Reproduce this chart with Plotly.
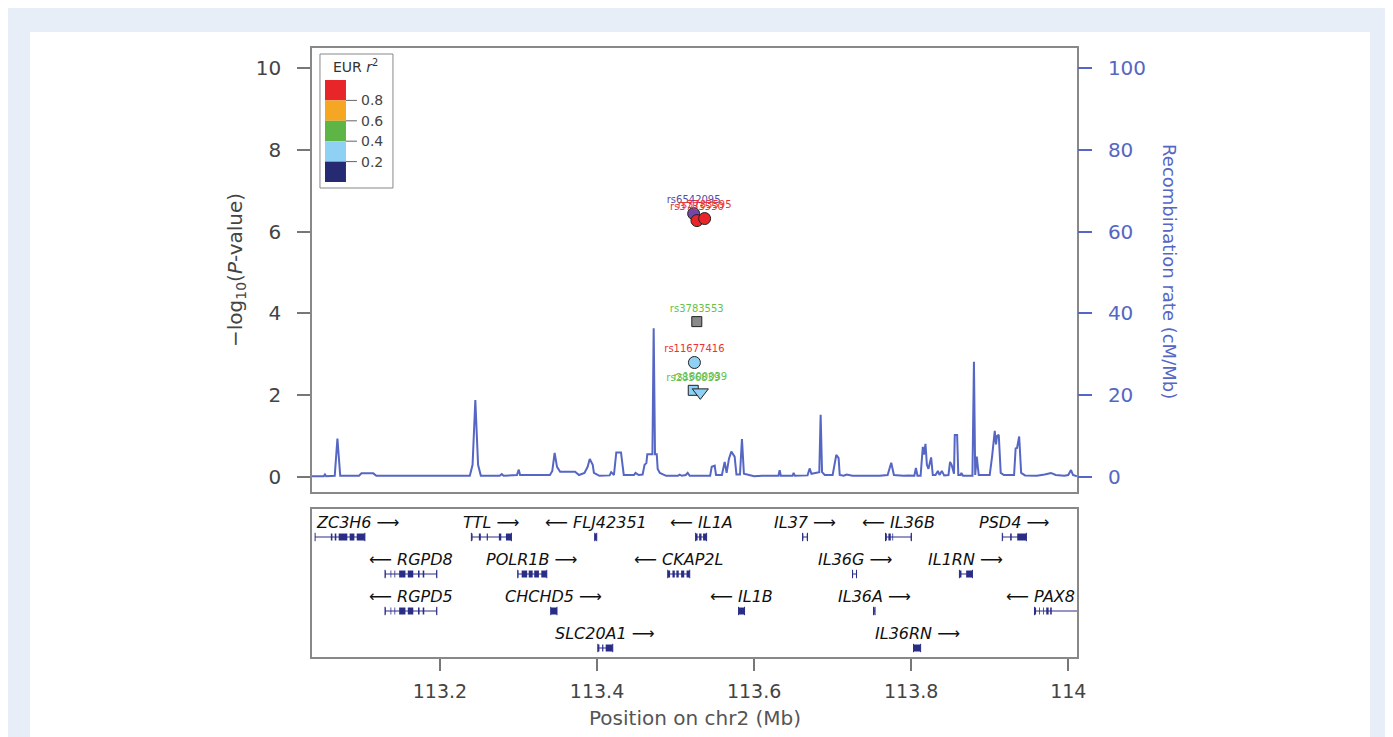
import plotly.graph_objects as go

OFF = 8        # page body margin of the viewer
XSCALE = 0.9936  # measured horizontal shrink of the captured page
W, H = 1393 - OFF, 737 - OFF
FONT = "DejaVu Sans"
NAVY_GENE = "#2a2d86"
REC_BLUE = "#5566c4"

# x range of both panels (Mb)
X_MIN, X_MAX = 113.037, 114.011

# --- SNPs (top panel) ---
snp_ids = ["rs6542095", "rs3783550", "rs3783595", "rs3783553", "rs11677416", "rs2856839", "rs1800039"]
snp_pos = [113.5230, 113.5272, 113.5370, 113.5270, 113.5240, 113.5225, 113.5315]
snp_logp = [6.44, 6.27, 6.32, 3.80, 2.80, 2.12, 2.07]
snp_shape = ["circle", "circle", "circle", "square", "circle", "square", "triangle-down"]
snp_fill = ["#7446a8", "#e8262a", "#e8262a", "#8a8a8a", "#8fd0f5", "#8fd0f5", "#8fd0f5"]
snp_label_color = ["#5a4aa8", "#f03030", "#f03030", "#66c04a", "#f03030", "#66c04a", "#66c04a"]
snp_size = [12, 12, 12, 10, 12, 10, 14]

# --- recombination rate (cM/Mb) ---
rec_pos = [113.037, 113.052, 113.0535, 113.055, 113.066, 113.0694, 113.073, 113.097, 113.100, 113.115,
           113.119, 113.238, 113.2415, 113.245, 113.2485, 113.252, 113.276, 113.2787, 113.281, 113.289,
           113.298, 113.3003, 113.302, 113.340, 113.343, 113.346, 113.349, 113.353, 113.372, 113.377,
           113.384, 113.388, 113.3907, 113.3945, 113.396, 113.403, 113.416, 113.418, 113.4215, 113.4245,
           113.4305, 113.434, 113.447, 113.449, 113.453, 113.458, 113.4605, 113.4628, 113.464, 113.4705,
           113.4721, 113.4738, 113.476, 113.4772, 113.480, 113.488, 113.503, 113.5052, 113.508, 113.513,
           113.5154, 113.518, 113.535, 113.544, 113.546, 113.5498, 113.5515, 113.559, 113.5625, 113.565,
           113.568, 113.571, 113.5752, 113.5775, 113.582, 113.5845, 113.587, 113.593, 113.600, 113.610,
           113.631, 113.6325, 113.634, 113.649, 113.6503, 113.652, 113.668, 113.6707, 113.673, 113.683,
           113.6847, 113.6865, 113.690, 113.700, 113.7025, 113.7046, 113.7076, 113.709, 113.714, 113.718,
           113.725, 113.745, 113.760, 113.770, 113.7746, 113.778, 113.790, 113.797, 113.800, 113.804,
           113.806, 113.808, 113.812, 113.8148, 113.8162, 113.8182, 113.820, 113.822, 113.8254, 113.8275,
           113.831, 113.834, 113.836, 113.839, 113.8398, 113.842, 113.8475, 113.8495, 113.8515, 113.8545,
           113.8555, 113.8585, 113.8600, 113.863, 113.8639, 113.866, 113.878, 113.8799, 113.8815, 113.8835,
           113.886, 113.900, 113.903, 113.9064, 113.908, 113.9093, 113.9115, 113.914, 113.918, 113.931,
           113.933, 113.9348, 113.9375, 113.940, 113.945, 113.960, 113.970, 113.978, 113.984, 113.995,
           114.000, 114.0035, 114.006, 114.011]
rec_rate = [0.2, 0.2, 0.6, 0.2, 0.3, 9.4, 0.3, 0.3, 0.9, 0.9,
            0.3, 0.3, 3.0, 18.8, 3.0, 0.3, 0.3, 0.7, 0.3, 0.4,
            0.5, 1.8, 0.5, 0.5, 1.5, 5.9, 2.5, 1.3, 1.3, 0.5,
            1.0, 2.5, 4.4, 3.0, 1.0, 0.3, 0.4, 1.2, 0.5, 6.0,
            6.0, 0.5, 0.5, 1.0, 0.5, 0.6, 3.0, 3.4, 5.6, 5.6,
            36.4, 5.6, 5.6, 2.0, 1.0, 0.3, 0.3, 0.6, 0.3, 0.5,
            1.0, 0.3, 0.2, 0.3, 2.5, 2.8, 0.5, 0.5, 3.7, 1.0,
            4.5, 6.2, 5.0, 0.6, 0.6, 9.3, 0.8, 0.5, 0.2, 0.3,
            0.3, 1.7, 0.3, 0.3, 1.0, 0.3, 0.4, 2.1, 0.8, 1.2,
            15.2, 1.2, 0.5, 0.5, 3.5, 5.4, 4.6, 0.5, 0.3, 0.6,
            0.3, 0.2, 0.3, 0.5, 3.5, 0.5, 0.3, 0.4, 0.3, 0.3,
            2.2, 0.3, 0.3, 7.4, 5.5, 8.1, 3.0, 2.0, 4.8, 0.5,
            0.5, 1.5, 0.5, 1.5, 1.2, 0.4, 0.5, 3.7, 3.0, 0.8,
            10.3, 10.3, 0.5, 0.5, 1.0, 0.3, 0.3, 28.2, 0.5, 5.0,
            0.5, 0.5, 5.0, 11.3, 8.0, 10.0, 10.3, 1.0, 0.5, 0.5,
            7.0, 7.1, 9.9, 1.0, 0.4, 0.3, 0.6, 1.0, 0.5, 0.3,
            0.5, 1.7, 0.5, 0.2]

# --- genes (bottom panel) ---
gene_names = ["ZC3H6", "TTL", "FLJ42351", "IL1A", "IL37", "IL36B", "PSD4",
              "RGPD8", "POLR1B", "CKAP2L", "IL36G", "IL1RN",
              "RGPD5", "CHCHD5", "IL1B", "IL36A", "PAX8",
              "SLC20A1", "IL36RN"]
gene_row = [1, 1, 1, 1, 1, 1, 1, 2, 2, 2, 2, 2, 3, 3, 3, 3, 3, 4, 4]
gene_strand = ["+", "+", "-", "-", "+", "-", "+", "-", "+", "-", "+", "+",
               "-", "+", "-", "+", "-", "+", "+"]
gene_start = [113.041, 113.240, 113.397, 113.5255, 113.6617, 113.7673, 113.916,
              113.130, 113.299, 113.490, 113.7253, 113.8614,
              113.130, 113.341, 113.5802, 113.752, 113.957,
              113.401, 113.803]
gene_end = [113.1044, 113.291, 113.3996, 113.5395, 113.668, 113.8003, 113.9467,
            113.196, 113.336, 113.518, 113.7304, 113.878,
            113.196, 113.349, 113.5878, 113.754, 114.030,
            113.420, 113.812]
gene_exons = [
    [(113.061, 113.063), (113.066, 113.068), (113.071, 113.082), (113.085, 113.091), (113.094, 113.1044)],
    [(113.240, 113.2415), (113.2495, 113.252), (113.2595, 113.261), (113.275, 113.278), (113.284, 113.291)],
    [(113.397, 113.3996)],
    [(113.5255, 113.528), (113.530, 113.533), (113.535, 113.5395)],
    [(113.6617, 113.6627), (113.667, 113.668)],
    [(113.7673, 113.769), (113.771, 113.774), (113.776, 113.777), (113.7993, 113.8003)],
    [(113.916, 113.917), (113.926, 113.928), (113.935, 113.9467)],
    [(113.130, 113.131), (113.137, 113.138), (113.142, 113.143), (113.148, 113.156),
     (113.159, 113.166), (113.172, 113.174), (113.178, 113.180), (113.195, 113.196)],
    [(113.299, 113.300), (113.304, 113.311), (113.313, 113.318), (113.320, 113.326), (113.329, 113.336)],
    [(113.490, 113.493), (113.496, 113.499), (113.501, 113.504), (113.507, 113.511), (113.514, 113.518)],
    [(113.7253, 113.726), (113.7297, 113.7304)],
    [(113.8614, 113.864), (113.870, 113.878)],
    [(113.130, 113.131), (113.137, 113.138), (113.142, 113.143), (113.148, 113.156),
     (113.159, 113.166), (113.172, 113.174), (113.178, 113.180), (113.195, 113.196)],
    [(113.341, 113.349)],
    [(113.5802, 113.5878)],
    [(113.7525, 113.7535)],
    [(113.957, 113.959), (113.963, 113.964), (113.968, 113.969), (113.972, 113.975), (113.977, 113.979)],
    [(113.401, 113.403), (113.4065, 113.408), (113.411, 113.420)],
    [(113.803, 113.812)],
]

# --- LD legend ---
r2_colors = ["#e8262a", "#f5a623", "#5cb545", "#8fd0f5", "#262a72"]
r2_ticks = ["0.8", "0.6", "0.4", "0.2"]

x_ticks = [113.2, 113.4, 113.6, 113.8, 114.0]
x_ticktext = ["113.2", "113.4", "113.6", "113.8", "114"]


# screen pixel -> paper fraction
def px(x):
    return (x - OFF) / XSCALE / W


def py(y):
    return 1 - (y - OFF) / H


fig = go.Figure()

# recombination line (right axis)
fig.add_trace(go.Scatter(x=rec_pos, y=rec_rate, mode="lines", xaxis="x", yaxis="y2",
                         line=dict(color=REC_BLUE, width=2), hoverinfo="skip", showlegend=False))

# SNP points
for i in range(len(snp_ids)):
    fig.add_trace(go.Scatter(
        x=[snp_pos[i]], y=[snp_logp[i]], mode="markers+text", xaxis="x", yaxis="y",
        text=[snp_ids[i]], textposition="top center",
        textfont=dict(family=FONT, size=10, color=snp_label_color[i]),
        marker=dict(symbol=snp_shape[i], size=snp_size[i], color=snp_fill[i],
                    line=dict(color="#222222", width=1)),
        showlegend=False, cliponaxis=False))

# genes: intron lines, end ticks and exons
ix, iy, ex, ey, tx, ty = [], [], [], [], [], []
for i in range(len(gene_names)):
    r = gene_row[i]
    ix += [gene_start[i], gene_end[i], None]
    iy += [r, r, None]
    tx += [gene_start[i], gene_end[i]]
    ty += [r, r]
    for s, e in gene_exons[i]:
        ex += [s, e, None]
        ey += [r, r, None]

fig.add_trace(go.Scatter(x=ix, y=iy, mode="lines", xaxis="x2", yaxis="y3",
                         line=dict(color=NAVY_GENE, width=1), showlegend=False, hoverinfo="skip"))
fig.add_trace(go.Scatter(x=tx, y=ty, mode="markers", xaxis="x2", yaxis="y3",
                         marker=dict(symbol="line-ns-open", size=6, color=NAVY_GENE,
                                     line=dict(color=NAVY_GENE, width=1)),
                         showlegend=False, hoverinfo="skip"))
fig.add_trace(go.Scatter(x=ex, y=ey, mode="lines", xaxis="x2", yaxis="y3",
                         line=dict(color=NAVY_GENE, width=7), showlegend=False, hoverinfo="skip"))

annotations = []
for i in range(len(gene_names)):
    mid = (gene_start[i] + gene_end[i]) / 2
    if gene_strand[i] == "+":
        txt = "<i>%s</i> \u27f6" % gene_names[i]
    else:
        txt = "\u27f5 <i>%s</i>" % gene_names[i]
    xa = "center"
    xpos = mid
    if mid - X_MIN < 0.05:
        xa, xpos = "left", X_MIN + 0.003
    elif X_MAX - mid < 0.05:
        xa, xpos = "right", X_MAX
    annotations.append(dict(x=xpos, y=gene_row[i], xref="x2", yref="y3", xanchor=xa, yanchor="middle",
                            yshift=15, text=txt, showarrow=False,
                            font=dict(family=FONT, size=16, color="#111111")))

# axis titles
annotations.append(dict(x=px(236), y=py(270), xref="paper", yref="paper", textangle=-90,
                        xanchor="center", yanchor="middle",
                        text="\u2212log<sub>10</sub>(<i>P</i>-value)", showarrow=False,
                        font=dict(family=FONT, size=20, color="#444444")))
annotations.append(dict(x=px(1170), y=py(272), xref="paper", yref="paper", textangle=90,
                        xanchor="center", yanchor="middle",
                        text="Recombination rate (cM/Mb)", showarrow=False,
                        font=dict(family=FONT, size=18, color=REC_BLUE)))
annotations.append(dict(x=px(695), y=py(718), xref="paper", yref="paper",
                        xanchor="center", yanchor="middle",
                        text="Position on chr2 (Mb)", showarrow=False,
                        font=dict(family=FONT, size=20, color="#555555")))

# background panel and LD legend
shapes = [
    dict(type="rect", xref="paper", yref="paper", x0=px(30), x1=px(1370), y0=-0.1, y1=py(32),
         fillcolor="white", line=dict(width=0), layer="below"),
    dict(type="rect", xref="paper", yref="paper", x0=px(320), x1=px(393), y0=py(188), y1=py(54),
         fillcolor="white", line=dict(color="#888888", width=1)),
]
block_h = 20.4
for k, c in enumerate(r2_colors):
    y0 = 80 + k * block_h
    shapes.append(dict(type="rect", xref="paper", yref="paper", x0=px(325), x1=px(346),
                       y0=py(y0 + block_h), y1=py(y0), fillcolor=c, line=dict(width=0)))
for k, t in enumerate(r2_ticks):
    yy = 80 + (k + 1) * block_h
    shapes.append(dict(type="line", xref="paper", yref="paper", x0=px(346), x1=px(357),
                       y0=py(yy), y1=py(yy), line=dict(color="#666666", width=1)))
    annotations.append(dict(x=px(359), y=py(yy), xref="paper", yref="paper",
                            xanchor="left", yanchor="middle",
                            text=t, showarrow=False, font=dict(family=FONT, size=14, color="#444444")))
annotations.append(dict(x=px(356), y=py(66), xref="paper", yref="paper",
                        xanchor="center", yanchor="middle",
                        text="EUR <i>r</i><sup>2</sup>", showarrow=False,
                        font=dict(family=FONT, size=14, color="#333333")))

fig.update_layout(
    width=W, height=H,
    margin=dict(l=0, r=0, t=0, b=0),
    paper_bgcolor="#e7eef8", plot_bgcolor="white",
    showlegend=False,
    font=dict(family=FONT, color="#444444"),
    xaxis=dict(domain=[px(312), px(1077)], range=[X_MIN, X_MAX], anchor="y",
               showticklabels=False, ticks="", showgrid=False, zeroline=False,
               showline=True, mirror=True, linecolor="#888888", linewidth=1.5),
    yaxis=dict(domain=[py(492), py(48)], range=[-0.366, 10.49], anchor="x",
               tickvals=[0, 2, 4, 6, 8, 10], ticks="outside", ticklen=13, tickwidth=1.5,
               ticklabelstandoff=12,
               tickcolor="#777777", tickfont=dict(size=20, color="#444444"),
               showgrid=False, zeroline=False, showline=True, mirror=True,
               linecolor="#888888", linewidth=1.5),
    yaxis2=dict(overlaying="y", side="right", anchor="x", range=[-3.66, 104.9],
                tickvals=[0, 20, 40, 60, 80, 100], ticks="outside", ticklen=14, tickwidth=1.5,
                ticklabelstandoff=12,
                tickcolor=REC_BLUE, tickfont=dict(size=20, color=REC_BLUE),
                showgrid=False, zeroline=False, showline=False),
    xaxis2=dict(domain=[px(312), px(1077)], range=[X_MIN, X_MAX], anchor="y3",
                tickvals=x_ticks, ticktext=x_ticktext, ticks="outside", ticklen=12, tickwidth=1.5,
                ticklabelstandoff=4,
                tickcolor="#777777", tickfont=dict(size=19, color="#444444"),
                showgrid=False, zeroline=False, showline=True, mirror=True,
                linecolor="#888888", linewidth=1.5),
    yaxis3=dict(domain=[py(657), py(509)], range=[4.243, 0.243], anchor="x2",
                showticklabels=False, ticks="", showgrid=False, zeroline=False,
                showline=True, mirror=True, linecolor="#888888", linewidth=1.5),
    shapes=shapes,
    annotations=annotations,
)

fig.write_html("out.html")
